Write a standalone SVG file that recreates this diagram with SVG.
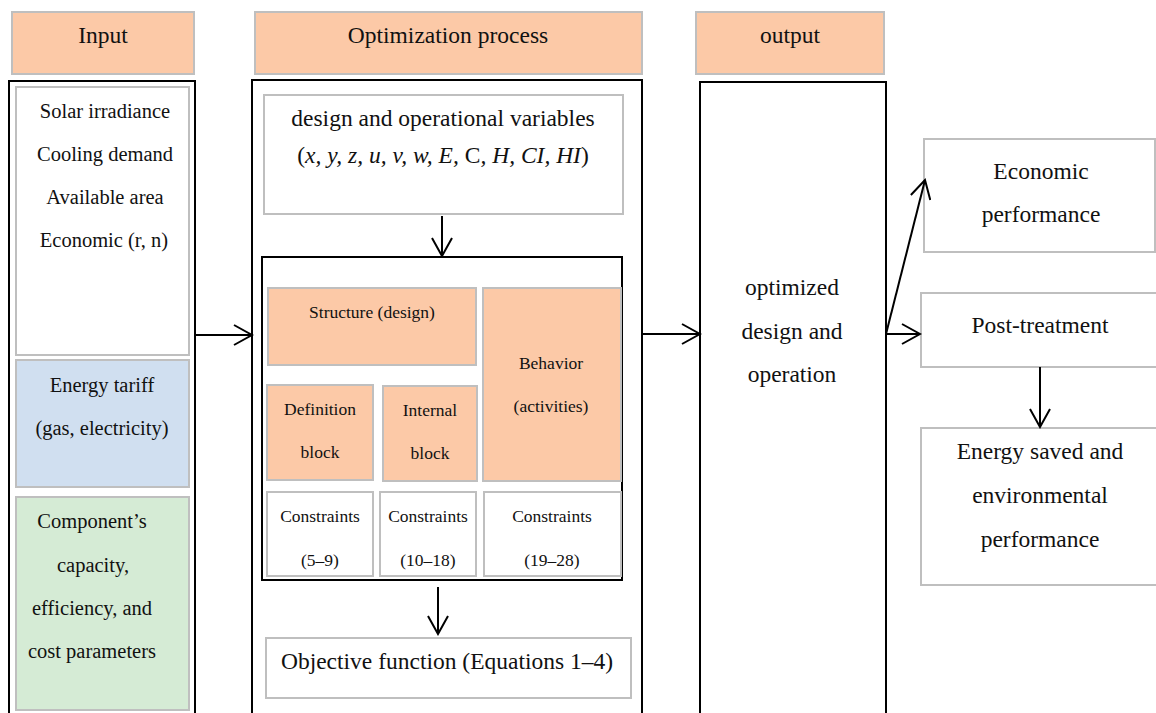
<svg xmlns="http://www.w3.org/2000/svg" width="1156" height="713" viewBox="0 0 1156 713">
<defs>
<marker id="chev" viewBox="0 0 22 22" refX="20" refY="11" markerWidth="22" markerHeight="22" markerUnits="userSpaceOnUse" orient="auto">
<path d="M2,1 L20,11 L2,21" fill="none" stroke="#000" stroke-width="2"/>
</marker>
<style>
text{font-family:"Liberation Serif","Times New Roman",serif;fill:#111;text-anchor:middle}
.hdr{fill:#FCC9A7;stroke:#BFBFBF;stroke-width:2}
.peach{fill:#FCC9A7;stroke:#BFBFBF;stroke-width:2}
.gbox{fill:#fff;stroke:#BFBFBF;stroke-width:2}
.blue{fill:#D0DFF0;stroke:#BFBFBF;stroke-width:2}
.green{fill:#D5EBD5;stroke:#BFBFBF;stroke-width:2}
.outer{fill:#fff;stroke:#000;stroke-width:2}
.inner{fill:none;stroke:#000;stroke-width:2}
.big{font-size:23.5px}
.mid{font-size:20.5px}
.sm{font-size:17.5px}
.conn{stroke:#000;stroke-width:2;fill:none;marker-end:url(#chev)}
</style>
</defs>
<rect width="1156" height="713" fill="#fff"/>

<g id="hdr-input"><rect class="hdr" x="12" y="12" width="182" height="62"/><text class="big" x="103" y="43">Input</text></g>
<g id="hdr-opt"><rect class="hdr" x="255" y="12" width="387" height="62"/><text class="big" x="448" y="43">Optimization process</text></g>
<g id="hdr-output"><rect class="hdr" x="696" y="12" width="188" height="62"/><text class="big" x="790" y="43">output</text></g>

<g id="input-col"><rect class="outer" x="9" y="81" width="186" height="645"/></g>
<g id="input-params"><rect class="gbox" x="16" y="87" width="173" height="268"/>
<text class="mid" x="105" y="118">Solar irradiance</text>
<text class="mid" x="105" y="161">Cooling demand</text>
<text class="mid" x="105" y="204">Available area</text>
<text class="mid" x="104" y="247">Economic (r, n)</text></g>
<g id="input-tariff"><rect class="blue" x="16" y="360" width="173" height="127"/>
<text class="mid" x="102" y="392">Energy tariff</text>
<text class="mid" x="102" y="435">(gas, electricity)</text></g>
<g id="input-components"><rect class="green" x="16" y="497" width="173" height="213"/>
<text class="mid" x="92" y="528">Component’s</text>
<text class="mid" x="93" y="572">capacity,</text>
<text class="mid" x="92" y="615">efficiency, and</text>
<text class="mid" x="92" y="658">cost parameters</text></g>

<g id="opt-col"><rect class="outer" x="252" y="80" width="390" height="646"/></g>
<g id="design-vars"><rect class="gbox" x="264" y="95" width="359" height="119"/>
<text class="big" x="443" y="126">design and operational variables</text>
<text class="big" x="443" y="163">(<tspan font-style="italic">x, y, z, u, v, w, E, </tspan>C<tspan font-style="italic">, H, CI, HI</tspan>)</text></g>
<g id="model-block"><rect class="inner" x="262" y="257" width="360" height="323"/></g>
<g id="structure"><rect class="peach" x="268" y="288" width="208" height="77"/><text class="sm" x="372" y="318">Structure (design)</text></g>
<g id="behavior"><rect class="peach" x="483" y="288" width="138" height="193"/><text class="sm" x="551" y="369">Behavior</text><text class="sm" x="551" y="412">(activities)</text></g>
<g id="definition"><rect class="peach" x="267" y="385" width="106" height="95"/><text class="sm" x="320" y="415">Definition</text><text class="sm" x="320" y="458">block</text></g>
<g id="internal"><rect class="peach" x="383" y="386" width="94" height="95"/><text class="sm" x="430" y="416">Internal</text><text class="sm" x="430" y="459">block</text></g>
<g id="constr1"><rect class="gbox" x="267" y="492" width="106" height="84"/><text class="sm" x="320" y="522">Constraints</text><text class="sm" x="320" y="566">(5–9)</text></g>
<g id="constr2"><rect class="gbox" x="380" y="492" width="96" height="84"/><text class="sm" x="428" y="522">Constraints</text><text class="sm" x="428" y="566">(10–18)</text></g>
<g id="constr3"><rect class="gbox" x="484" y="492" width="137" height="84"/><text class="sm" x="552" y="522">Constraints</text><text class="sm" x="552" y="566">(19–28)</text></g>
<g id="objective"><rect class="gbox" x="266" y="638" width="365" height="60"/><text class="big" x="447" y="669">Objective function (Equations 1–4)</text></g>

<g id="output-col"><rect class="outer" x="700" y="82" width="186" height="644"/>
<text class="big" x="792" y="295">optimized</text>
<text class="big" x="792" y="339">design and</text>
<text class="big" x="792" y="382">operation</text></g>

<g id="economic"><rect class="gbox" x="924" y="139" width="231" height="113"/><text class="big" x="1041" y="179">Economic</text><text class="big" x="1041" y="222">performance</text></g>
<g id="post"><rect class="gbox" x="921" y="293" width="245" height="74"/><text class="big" x="1040" y="333">Post-treatment</text></g>
<g id="energy"><rect class="gbox" x="921" y="428" width="245" height="157"/>
<text class="big" x="1040" y="459">Energy saved and</text>
<text class="big" x="1040" y="503">environmental</text>
<text class="big" x="1040" y="547">performance</text></g>

<g id="connectors">
<line class="conn" x1="195" y1="335" x2="252" y2="335"/>
<line class="conn" x1="442" y1="216" x2="442" y2="256"/>
<line class="conn" x1="438" y1="587" x2="438" y2="634"/>
<line class="conn" x1="642" y1="334" x2="700" y2="334"/>
<line class="conn" x1="886" y1="334" x2="920" y2="334"/>
<line class="conn" x1="886" y1="334" x2="925" y2="180"/>
<line class="conn" x1="1040" y1="367" x2="1040" y2="427"/>
</g>
</svg>
